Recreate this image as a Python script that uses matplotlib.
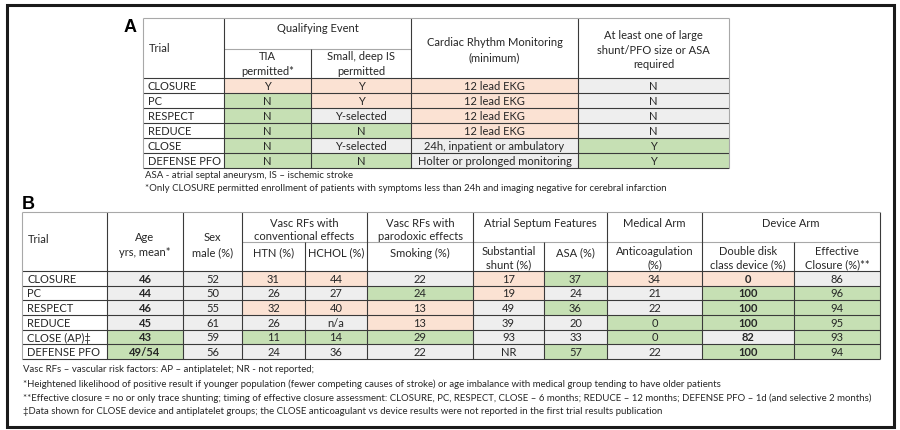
import matplotlib.pyplot as plt
from matplotlib.patches import Rectangle

plt.rcParams['font.family'] = ['Lato', 'DejaVu Sans']

# Panel A data
trials_a = ['CLOSURE', 'PC', 'RESPECT', 'REDUCE', 'CLOSE', 'DEFENSE PFO']
tia = ['Y', 'N', 'N', 'N', 'N', 'N']
small_is = ['Y', 'Y', 'Y-selected', 'N', 'Y-selected', 'N']
rhythm = ['12 lead EKG', '12 lead EKG', '12 lead EKG', '12 lead EKG',
          '24h, inpatient or ambulatory', 'Holter or prolonged monitoring']
large_shunt = ['N', 'N', 'N', 'N', 'Y', 'Y']
# u - unfavourable, f - favourable, n - neutral
tia_rate = ['u', 'f', 'f', 'f', 'f', 'f']
small_is_rate = ['u', 'u', 'n', 'f', 'n', 'f']
rhythm_rate = ['u', 'u', 'u', 'u', 'n', 'n']
large_shunt_rate = ['n', 'n', 'n', 'n', 'f', 'f']

# Panel B data
trials_b = ['CLOSURE', 'PC', 'RESPECT', 'REDUCE', 'CLOSE (AP)\u2021', 'DEFENSE PFO']
age = ['46', '44', '46', '45', '43', '49/54']
sex = ['52', '50', '55', '61', '59', '56']
htn = ['31', '26', '32', '26', '11', '24']
hchol = ['44', '27', '40', 'n/a', '14', '36']
smoking = ['22', '24', '13', '13', '29', '22']
shunt = ['17', '19', '49', '39', '93', 'NR']
asa = ['37', '24', '36', '20', '33', '57']
anticoag = ['34', '21', '22', '0', '0', '22']
double_disk = ['0', '100', '100', '100', '82', '100']
eff_closure = ['86', '96', '94', '95', '93', '94']
age_rate = ['n', 'n', 'n', 'n', 'f', 'f']
sex_rate = ['n', 'n', 'n', 'n', 'n', 'n']
htn_rate = ['u', 'n', 'u', 'n', 'f', 'n']
hchol_rate = ['u', 'n', 'u', 'n', 'f', 'n']
smoking_rate = ['n', 'f', 'u', 'u', 'f', 'n']
shunt_rate = ['u', 'u', 'n', 'n', 'n', 'n']
asa_rate = ['f', 'n', 'f', 'n', 'n', 'f']
anticoag_rate = ['u', 'n', 'n', 'f', 'f', 'n']
double_disk_rate = ['u', 'f', 'f', 'f', 'n', 'f']
eff_closure_rate = ['n', 'f', 'f', 'f', 'f', 'f']

fills = {'u': '#fbe2d3', 'f': '#c6e0b4', 'n': '#eeeeee'}
txt_col = '#262626'
grid_col = '#3a3a3a'
light_col = '#a8a8a8'
fs = 8.0  # table text
fs_note = 6.9  # footnotes


def hline(ax, y, x0, x1, col=grid_col, lw=0.8):
    ax.plot([x0, x1], [y, y], color=col, lw=lw, solid_capstyle='butt')


def vline(ax, x, y0, y1, col=grid_col, lw=0.8):
    ax.plot([x, x], [y0, y1], color=col, lw=lw, solid_capstyle='butt')


def draw_body(ax, xs, y0, row_h, labels, cols, rates, bold=()):
    for i, lbl in enumerate(labels):
        yc = y0 + (i + 0.5) * row_h
        ax.text(xs[0] + 5, yc, lbl, ha='left', va='center', fontsize=fs, color=txt_col)
        for j, (col, rate) in enumerate(zip(cols, rates)):
            ax.add_patch(Rectangle((xs[j + 1], y0 + i * row_h), xs[j + 2] - xs[j + 1], row_h,
                                   facecolor=fills[rate[i]], edgecolor='none'))
            ax.text((xs[j + 1] + xs[j + 2]) / 2, yc, col[i], ha='center', va='center',
                    fontsize=fs, color=txt_col, fontweight='bold' if j in bold else 'normal')
    for i in range(len(labels) + 1):
        hline(ax, y0 + i * row_h, xs[0], xs[-1])


def centre(ax, x0, x1, y, s, ls=1.5):
    ax.text((x0 + x1) / 2, y, s, ha='center', va='center', fontsize=fs, color=txt_col,
            linespacing=ls)


fig = plt.figure(figsize=(9, 4.31), dpi=100)
ax = fig.add_axes([0, 0, 1, 1])
ax.set_xlim(0, 900)
ax.set_ylim(431, 0)
ax.axis('off')

ax.add_patch(Rectangle((7, 6), 887, 422, facecolor='none', edgecolor='#1a1a1a', lw=2.2))

# ---------- Panel A ----------
xa = [143, 224, 311, 411, 578, 729]
ya_top, ya_head, ra = 19, 79, 15
ax.text(130, 27, 'A', ha='center', va='center', fontsize=13, fontweight='bold',
        family=['Liberation Sans', 'DejaVu Sans'])
draw_body(ax, xa, ya_head, ra, trials_a, [tia, small_is, rhythm, large_shunt],
          [tia_rate, small_is_rate, rhythm_rate, large_shunt_rate])
ax.text(xa[0] + 6, 48, 'Trial', ha='left', va='center', fontsize=fs, color=txt_col)
centre(ax, xa[1], xa[3], 29, 'Qualifying Event')
centre(ax, xa[1], xa[2], 64, 'TIA\npermitted*', ls=1.4)
centre(ax, xa[2], xa[3], 64, 'Small, deep IS\npermitted', ls=1.4)
centre(ax, xa[3], xa[4], 50, 'Cardiac Rhythm Monitoring\n(minimum)', ls=1.4)
centre(ax, xa[4], xa[5], 50, 'At least one of large\nshunt/PFO size or ASA\nrequired', ls=1.4)
hline(ax, 50, xa[1], xa[3], col=light_col)
ya_bot = ya_head + ra * len(trials_a)
for k, x in enumerate(xa):
    if k in (0, len(xa) - 1):
        vline(ax, x, ya_top, ya_bot, col=light_col)
    elif k == 2:
        vline(ax, x, 50, ya_bot)
    else:
        vline(ax, x, ya_top, ya_bot)
hline(ax, ya_top, xa[0], xa[-1], col=light_col)
ax.text(xa[0] + 2, 176, 'ASA - atrial septal aneurysm, IS \u2013 ischemic stroke',
        ha='left', va='center', fontsize=fs_note, color=txt_col)
ax.text(xa[0] + 2, 189, '*Only CLOSURE permitted enrollment of patients with symptoms less than 24h '
        'and imaging negative for cerebral infarction', ha='left', va='center', fontsize=fs_note,
        color=txt_col)

# ---------- Panel B ----------
xb = [22, 107, 183, 242, 305, 367, 473, 544, 607, 702, 794, 880]
yb_top, yb_head, yb_sub = 213, 272, 243
rb = (360 - yb_head) / len(trials_b)
ax.text(28, 205, 'B', ha='center', va='center', fontsize=13, fontweight='bold',
        family=['Liberation Sans', 'DejaVu Sans'])
draw_body(ax, xb, yb_head, rb, trials_b,
          [age, sex, htn, hchol, smoking, shunt, asa, anticoag, double_disk, eff_closure],
          [age_rate, sex_rate, htn_rate, hchol_rate, smoking_rate, shunt_rate, asa_rate,
           anticoag_rate, double_disk_rate, eff_closure_rate], bold=(0, 8))
ax.text(xb[0] + 6, 240, 'Trial', ha='left', va='center', fontsize=fs, color=txt_col)
centre(ax, xb[1], xb[2], 245, 'Age\nyrs, mean*', ls=1.45)
centre(ax, xb[2], xb[3], 245, 'Sex\nmale (%)', ls=1.45)
centre(ax, xb[3], xb[5], 230, 'Vasc RFs with\nconventional effects', ls=1.3)
centre(ax, xb[5], xb[6], 230, 'Vasc RFs with\nparodoxic effects', ls=1.3)
centre(ax, xb[6], xb[8], 224, 'Atrial Septum Features')
centre(ax, xb[8], xb[9], 224, 'Medical Arm')
centre(ax, xb[9], xb[11], 224, 'Device Arm')
centre(ax, xb[3], xb[4], 253, 'HTN (%)')
centre(ax, xb[4], xb[5], 253, 'HCHOL (%)')
centre(ax, xb[5], xb[6], 253, 'Smoking (%)')
centre(ax, xb[6], xb[7], 258, 'Substantial\nshunt (%)', ls=1.3)
centre(ax, xb[7], xb[8], 253, 'ASA (%)')
centre(ax, xb[8], xb[9], 258, 'Anticoagulation\n(%)', ls=1.3)
centre(ax, xb[9], xb[10], 258, 'Double disk\nclass device (%)', ls=1.3)
centre(ax, xb[10], xb[11], 258, 'Effective\nClosure (%)**', ls=1.3)
hline(ax, yb_sub, xb[3], xb[-1], col=light_col)
yb_bot = yb_head + rb * len(trials_b)
for k, x in enumerate(xb):
    if k == 0:
        vline(ax, x, yb_top, yb_bot, col=light_col)
    elif k in (4, 7, 10):
        vline(ax, x, yb_sub, yb_bot)
    else:
        vline(ax, x, yb_top, yb_bot)
hline(ax, yb_top, xb[0], xb[-1], col=light_col)

notes_b = [
    'Vasc RFs \u2013 vascular risk factors: AP \u2013 antiplatelet; NR - not reported;',
    '*Heightened likelihood of positive result if younger population (fewer competing causes of stroke) '
    'or age imbalance with medical group tending to have older patients',
    '**Effective closure = no or only trace shunting; timing of effective closure assessment: CLOSURE, PC, '
    'RESPECT, CLOSE \u2013 6 months; REDUCE \u2013 12 months; DEFENSE PFO \u2013 1d (and selective 2 months)',
    '\u2021Data shown for CLOSE device and antiplatelet groups; the CLOSE anticoagulant vs device results '
    'were not reported in the first trial results publication',
]
for k, note in enumerate(notes_b):
    ax.text(xb[0] + 1, 370 + k * 14, note, ha='left', va='center', fontsize=fs_note, color=txt_col)

fig.savefig('out.png', dpi=100)
